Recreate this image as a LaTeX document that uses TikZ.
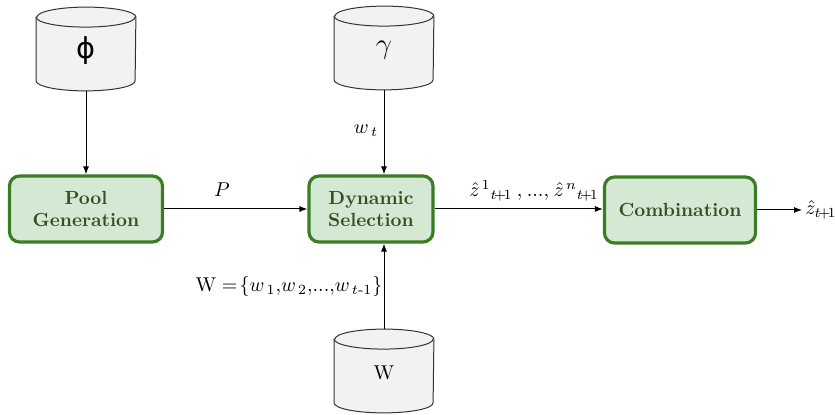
\documentclass[tikz,border=0pt]{standalone}
\usepackage{amsmath}
\usepackage{fontspec}
\usetikzlibrary{arrows.meta}
\newfontfamily\dejavu{DejaVu Sans}
\definecolor{boxfill}{HTML}{D5E8D4}
\definecolor{boxdraw}{HTML}{3A7D22}
\definecolor{boxtext}{HTML}{2F5220}
\definecolor{cylfill}{HTML}{F2F2F2}
\tikzset{
  procbox/.style={draw=boxdraw, fill=boxfill, line width=1.6pt, rounded corners=5pt,
    minimum height=33pt, inner sep=0pt, align=center, text=boxtext,
    font=\fontsize{9.5}{11}\selectfont\bfseries},
  cyllabel/.style={minimum width=49.5pt, minimum height=41.5pt, inner sep=0pt},
  cylbody/.style={draw=black!80, fill=cylfill, line width=0.5pt},
  conn/.style={-{Latex[length=4pt,width=3pt]}, line width=0.5pt},
}
\newcommand{\drawcyl}[1]{%
  \path (#1.north west) coordinate (tl) (#1.south east) coordinate (br);
  \draw[cylbody] ([yshift=-5pt]tl) -- ([yshift=5pt]tl |- br)
    arc[start angle=180,end angle=360,x radius=24.75pt,y radius=5pt]
    -- ([yshift=-5pt]tl -| br)
    arc[start angle=0,end angle=180,x radius=24.75pt,y radius=5pt] -- cycle;
  \draw[cylbody, fill=none] ([yshift=-5pt]tl)
    arc[start angle=180,end angle=360,x radius=24.75pt,y radius=5pt];
}
\begin{document}
\begin{tikzpicture}[x=0.5pt,y=0.5pt]
\useasboundingbox (0,0) rectangle (835,-415);
% cylinders
\node[cyllabel] (phi) at (86,-49) {};
\drawcyl{phi}
\node[font=\dejavu\Large] at ([yshift=-1pt]phi.center) {ϕ};
\node[cyllabel] (gam) at (384,-48) {};
\drawcyl{gam}
\node[font=\Large] at ([yshift=-1pt]gam.center) {$\gamma$};
\node[cyllabel] (wdb) at (384,-371) {};
\drawcyl{wdb}
\node at ([yshift=-1pt]wdb.center) {W};
% process boxes
\node[procbox, minimum width=76.5pt] (pool) at (86,-209) {Pool\\Generation};
\node[procbox, minimum width=62pt] (dyn) at (371,-209) {Dynamic\\Selection};
\node[procbox, minimum width=75.5pt] (comb) at (680,-210) {Combination};
\coordinate (out) at (802,-210);
% connectors
\draw[conn] (phi.south) -- (phi.south |- pool.north);
\draw[conn] (gam.south) -- (gam.south |- dyn.north);
\draw[conn] (wdb.north) -- (wdb.north |- dyn.south);
\draw[conn] (pool.east) -- (pool.east -| dyn.west);
\draw[conn] (dyn.east) -- (dyn.east -| comb.west);
\draw[conn] (comb.east) -- (out);
% labels
\node (lP) at (222,-190) {$P$};
\node (lwt) at (366,-131) {$w_{\,t}$};
\node (lW) at (289,-287) {$\mathrm{W} =\!\{w_{\,1}{,}w_{\,2}{,}...{,}w_{\,t\text{-}1}\}$};
\node (lz) at (534,-191) {$\hat{z}\mkern2mu{}^{1}{}_{t\!+\!1}\:{,}\:...{,}\:\hat{z}\mkern2mu{}^{n}{}_{t\!+\!1}$};
\node[anchor=west, inner sep=0.5pt] (lout) at ([xshift=1pt]out) {$\hat{z}_{t\!+\!1}$};
\end{tikzpicture}
\end{document}
